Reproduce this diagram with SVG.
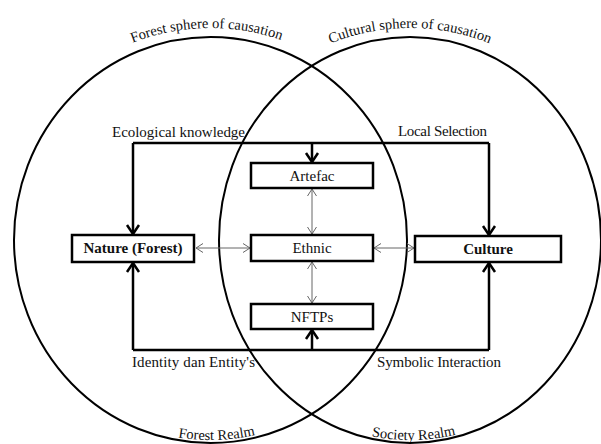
<svg xmlns="http://www.w3.org/2000/svg" width="601" height="444" viewBox="0 0 601 444">
<style>
.circ{fill:none;stroke:#000;stroke-width:2}
.box{fill:#fff;stroke:#000;stroke-width:2.5}
.t{font-family:"Liberation Serif","DejaVu Serif",serif;font-size:15px;fill:#111}
.c{font-size:14.5px}
.b{font-weight:bold}
.thick{fill:none;stroke:#000;stroke-width:2.5}
.thin{fill:none;stroke:#666;stroke-width:1}
</style>
<defs>
<marker id="ah" markerUnits="userSpaceOnUse" viewBox="-12 -8 14 16" markerWidth="14" markerHeight="16" refX="0" refY="0" orient="auto">
<path d="M-9,-6 L0,0 L-9,6" fill="none" stroke="#000" stroke-width="2.5"/>
</marker>
<marker id="at" markerUnits="userSpaceOnUse" viewBox="-10 -6 12 12" markerWidth="12" markerHeight="12" refX="0" refY="0" orient="auto-start-reverse">
<path d="M-7,-4.5 L0,0 L-7,4.5" fill="none" stroke="#666" stroke-width="1"/>
</marker>
<path id="pTL" d="M-1.5,240 A212 212 0 0 1 422.5,240"/>
<path id="pTR" d="M198,240 A212 212 0 0 1 622,240"/>
<path id="pBL" d="M10.5,240 A200 200 0 0 0 410.5,240"/>
<path id="pBR" d="M210,240 A200 200 0 0 0 610,240"/>
</defs>
<g id="spheres">
<ellipse class="circ" cx="210.5" cy="240" rx="196.5" ry="203"/>
<ellipse class="circ" cx="410" cy="240" rx="191" ry="203"/>
<text class="t c"><textPath href="#pTL" startOffset="49.4%" text-anchor="middle">Forest sphere of causation</textPath></text>
<text class="t c"><textPath href="#pTR" startOffset="50%" text-anchor="middle">Cultural  sphere of causation</textPath></text>
<text class="t c"><textPath href="#pBL" startOffset="51%" text-anchor="middle">Forest  Realm</textPath></text>
<text class="t c"><textPath href="#pBR" startOffset="50.6%" text-anchor="middle">Society Realm</textPath></text>
</g>
<g id="connectors">
<path class="thick" d="M133,143 H489"/>
<path class="thick" d="M133,143 V234" marker-end="url(#ah)"/>
<path class="thick" d="M489,143 V235" marker-end="url(#ah)"/>
<path class="thick" d="M312,143 V162" marker-end="url(#ah)"/>
<path class="thick" d="M133,350 H489"/>
<path class="thick" d="M133,350 V263" marker-end="url(#ah)"/>
<path class="thick" d="M489,350 V263" marker-end="url(#ah)"/>
<path class="thick" d="M312,350 V330" marker-end="url(#ah)"/>
<path class="thin" d="M196,248 H250" marker-start="url(#at)" marker-end="url(#at)"/>
<path class="thin" d="M374,248 H414" marker-start="url(#at)" marker-end="url(#at)"/>
<path class="thin" d="M312,189 V234" marker-start="url(#at)" marker-end="url(#at)"/>
<path class="thin" d="M312,262 V303" marker-start="url(#at)" marker-end="url(#at)"/>
<text class="t" x="112" y="137" textLength="133">Ecological knowledge</text>
<text class="t" x="398" y="136" textLength="89">Local Selection</text>
<text class="t" x="132" y="367" textLength="123">Identity dan Entity's</text>
<text class="t" x="377" y="367" textLength="124">Symbolic Interaction</text>
</g>
<g id="nature">
<rect class="box" x="72" y="235" width="122" height="27"/>
<text class="t b" x="133" y="253" text-anchor="middle">Nature (Forest)</text>
</g>
<g id="artefac">
<rect class="box" x="251" y="163" width="122" height="25"/>
<text class="t" x="312" y="181" text-anchor="middle">Artefac</text>
</g>
<g id="ethnic">
<rect class="box" x="251" y="235" width="122" height="26"/>
<text class="t" x="312" y="253" text-anchor="middle">Ethnic</text>
</g>
<g id="nftps">
<rect class="box" x="251" y="304" width="122" height="25"/>
<text class="t" x="312" y="322" text-anchor="middle">NFTPs</text>
</g>
<g id="culture">
<rect class="box" x="415" y="236" width="146" height="26"/>
<text class="t b" x="488" y="254" text-anchor="middle">Culture</text>
</g>
</svg>
